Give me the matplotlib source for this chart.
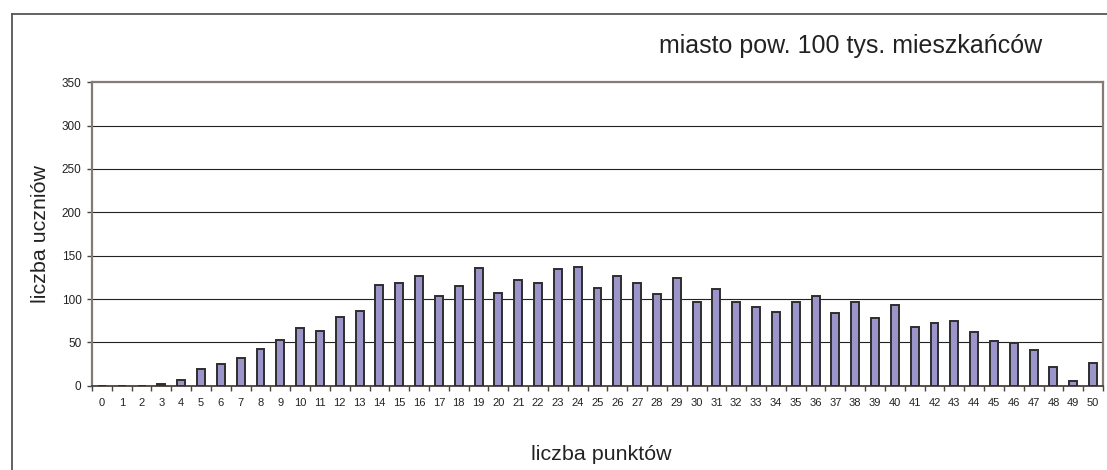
import matplotlib
matplotlib.use("Agg")
import matplotlib.pyplot as plt
from matplotlib.lines import Line2D
import numpy as np

plt.rcParams['font.family'] = ['Liberation Sans', 'DejaVu Sans']

points = list(range(0, 51))
students = [0, 0, 0, 2, 7, 19, 25, 32, 42, 53,
            67, 63, 79, 86, 116, 119, 127, 104, 115, 136,
            107, 122, 119, 135, 137, 113, 127, 119, 106, 124,
            97, 112, 96, 91, 85, 96, 104, 84, 96, 78,
            93, 68, 72, 75, 62, 51, 49, 41, 21, 5, 26]
y_ticks = [0, 50, 100, 150, 200, 250, 300, 350]

title = "miasto pow. 100 tys. mieszkańców"
xlabel = "liczba punktów"
ylabel = "liczba uczniów"

W, H = 1107, 470
fig = plt.figure(figsize=(W / 100, H / 100), dpi=100)
ax = fig.add_axes([92 / W, 1 - 385.7 / H, (1103 - 92) / W, (385.7 - 82.3) / H])

frame_col = '#857b76'
ax.bar(points, students, width=0.4, color='#9b95c9', edgecolor='#2e2e2e', linewidth=1.4, zorder=3)

ax.set_xlim(-0.5, 50.5)
ax.set_ylim(0, 350)
ax.set_yticks(y_ticks)
ax.set_yticklabels([str(v) for v in y_ticks], fontsize=8.5, color='#222222')
for v in y_ticks[1:-1]:
    ax.axhline(v, color='#222222', linewidth=0.8, zorder=1)

# category boundary ticks (major), labels at centers (minor)
ax.set_xticks(np.arange(-0.5, 51, 1.0))
ax.set_xticklabels([])
ax.set_xticks(points, minor=True)
ax.set_xticklabels([str(p) for p in points], minor=True, fontsize=8, color='#222222')
ax.tick_params(axis='x', which='major', direction='out', length=3.5, width=1, color='#444444')
ax.tick_params(axis='x', which='minor', length=0, pad=9)
ax.tick_params(axis='y', direction='out', length=3.5, width=1, color='#444444', pad=4)

for s in ['left', 'right', 'top']:
    ax.spines[s].set_color(frame_col)
    ax.spines[s].set_linewidth(1.6)
ax.spines['bottom'].set_color('#4a403c')
ax.spines['bottom'].set_linewidth(1.3)

fig.text(851 / W, 1 - 53.3 / H, title, ha='center', va='baseline', fontsize=18, color='#222222')
fig.text(601 / W, 1 - 460 / H, xlabel, ha='center', va='baseline', fontsize=15.4, color='#222222')
fig.text(40 / W, 1 - 234 / H, ylabel, ha='center', va='center', rotation=90, fontsize=15.4, color='#222222')

# outer chart border (top and left visible)
fig.add_artist(Line2D([11.7 / W, 11.7 / W], [0, 1 - 14 / H], transform=fig.transFigure, color='#555555', linewidth=1.3))
fig.add_artist(Line2D([11.7 / W, 1], [1 - 14 / H, 1 - 14 / H], transform=fig.transFigure, color='#555555', linewidth=1.3))

fig.savefig('out.png', dpi=100)
